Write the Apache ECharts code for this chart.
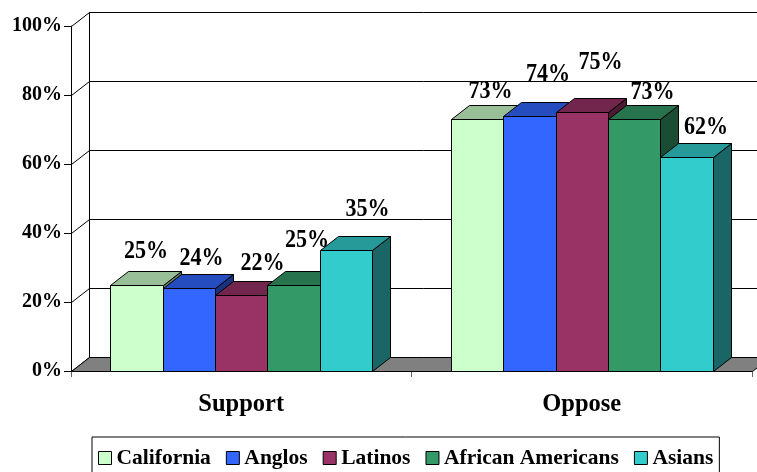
<!DOCTYPE html>
<html>
<head>
<meta charset="utf-8">
<script src="https://cdn.jsdelivr.net/npm/echarts/dist/echarts.min.js"></script>
<style>
  html, body { margin: 0; padding: 0; background: #fff; }
  #chart { width: 757px; height: 472px; }
</style>
</head>
<body>
<div id="chart"></div>
<script>
// ---- data ----
const categories = ['Support', 'Oppose'];
const groupNames = ['California', 'Anglos', 'Latinos', 'African Americans', 'Asians'];
const california = [25, 73];
const anglos = [24, 74];
const latinos = [22, 75];
const africanAmericans = [25, 73];
const asians = [35, 62];
const yTicks = [0, 20, 40, 60, 80, 100];

// ---- styling ----
const FONT = '"Liberation Serif", "Times New Roman", serif';
const DX = 18, DY = -14;          // depth offset of the 3D box
const BAR_FRACTION = 0.154;       // share of a category band taken by one bar
const frontColors = ['#CCFFCC', '#3366FF', '#993366', '#339966', '#33CCCC'];
// small hand placement of the value labels (relative to the top-back centre of each bar)
const labelNudge = [
  [[0, -20], [4, -14]],
  [[3, -16], [9, -28]],
  [[12, -18], [9, -36]],
  [[4, -31], [9, -13]],
  [[12, -27], [10, -16]]
];

function shade(hex, f) {
  const n = parseInt(hex.slice(1), 16);
  const r = Math.round(((n >> 16) & 255) * f);
  const g = Math.round(((n >> 8) & 255) * f);
  const b = Math.round((n & 255) * f);
  return 'rgb(' + r + ',' + g + ',' + b + ')';
}

const seriesValues = [california, anglos, latinos, africanAmericans, asians];

function renderFrame(params, api) {
  const cs = params.coordSys;
  const x0 = Math.round(cs.x) + 0.5, y0 = Math.round(cs.y) + 0.5;
  const x1 = Math.round(cs.x + cs.width) + 0.5, yb = Math.round(cs.y + cs.height) + 0.5;
  const line = { stroke: '#000', lineWidth: 1 };
  const children = [];
  children.push({ type: 'rect', shape: { x: x0 + DX, y: y0 + DY, width: x1 - x0, height: yb - y0 },
    style: Object.assign({ fill: '#fff' }, line) });
  children.push({ type: 'polygon',
    shape: { points: [[x0, y0], [x0 + DX, y0 + DY], [x0 + DX, yb + DY], [x0, yb]] },
    style: Object.assign({ fill: '#fff' }, line) });
  yTicks.forEach(function (v) {
    if (v === 0 || v === 100) return;
    const y = Math.round(api.coord([0, v])[1]) + 0.5;
    children.push({ type: 'polyline',
      shape: { points: [[x0, y], [x0 + DX, y + DY], [x1 + DX, y + DY]] },
      style: Object.assign({ fill: null }, line) });
  });
  children.push({ type: 'polygon',
    shape: { points: [[x0, yb], [x0 + DX, yb + DY], [x1 + DX, yb + DY], [x1, yb]] },
    style: Object.assign({ fill: '#808080' }, line) });
  return { type: 'group', children: children };
}

function makeBarRenderer(idx) {
  const front = frontColors[idx];
  const top = shade(front, 0.75);
  const side = shade(front, 0.5);
  return function (params, api) {
    const cat = api.value(0), val = api.value(1);
    const band = api.size([1, 0])[0];
    const bw = band * BAR_FRACTION;
    const c = api.coord([cat, val]);
    const base = Math.round(api.coord([cat, 0])[1]) + 0.5;
    const l = Math.round(c[0] - bw * groupNames.length / 2 + idx * bw) + 0.5;
    const r = Math.round(c[0] - bw * groupNames.length / 2 + (idx + 1) * bw) + 0.5;
    const t = Math.round(c[1]) + 0.5;
    const edge = { stroke: '#000', lineWidth: 1 };
    const nudge = labelNudge[idx][cat];
    return {
      type: 'group',
      children: [
        { type: 'polygon', shape: { points: [[r, t], [r + DX, t + DY], [r + DX, base + DY], [r, base]] },
          style: Object.assign({ fill: side }, edge) },
        { type: 'polygon', shape: { points: [[l, t], [l + DX, t + DY], [r + DX, t + DY], [r, t]] },
          style: Object.assign({ fill: top }, edge) },
        { type: 'rect', shape: { x: l, y: t, width: r - l, height: base - t },
          style: Object.assign({ fill: front }, edge) },
        { type: 'text', z2: 50,
          x: (l + r) / 2 + DX / 2 + nudge[0], y: t + DY + nudge[1], scaleX: 0.9,
          style: { text: val + '%', x: 0, y: 0,
            fill: '#000', font: 'bold 24.5px ' + FONT, align: 'center', verticalAlign: 'middle' } }
      ]
    };
  };
}

const series = [{
  type: 'custom', name: 'frame', silent: true, z: 1,
  renderItem: renderFrame, data: [[0, 0]], encode: { x: 0, y: 1 }
}];
groupNames.forEach(function (name, i) {
  series.push({
    type: 'custom', name: name, z: 2 + i,
    itemStyle: { color: frontColors[i] },
    renderItem: makeBarRenderer(i),
    encode: { x: 0, y: 1 },
    data: seriesValues[i].map(function (v, k) { return [k, v]; })
  });
});

const chart = echarts.init(document.getElementById('chart'), null, { renderer: 'canvas' });
chart.setOption({
  animation: false,
  backgroundColor: '#fff',
  grid: { left: 71, right: 5, top: 26, bottom: 101, containLabel: false },
  xAxis: {
    type: 'category', data: categories, boundaryGap: true,
    axisLine: { show: false },
    axisTick: { show: true, length: 6, lineStyle: { color: '#666' } },
    axisLabel: { margin: 21, color: '#000', fontFamily: FONT, fontWeight: 'bold', fontSize: 24.5 },
    splitLine: { show: false }
  },
  yAxis: {
    type: 'value', min: 0, max: 100, interval: 20,
    axisLine: { show: true, lineStyle: { color: '#000' } },
    axisTick: { show: true, length: 7, lineStyle: { color: '#000' } },
    axisLabel: { margin: 9, formatter: '{value}%', color: '#000', fontFamily: FONT, fontWeight: 'bold', fontSize: 20 },
    splitLine: { show: false }
  },
  legend: {
    data: groupNames, left: 92, top: 437, orient: 'horizontal',
    icon: 'rect', itemWidth: 13, itemHeight: 13, itemGap: 15,
    padding: [10, 6, 10, 6],
    borderColor: '#000', borderWidth: 1, borderRadius: 0,
    itemStyle: { borderColor: '#000', borderWidth: 1 },
    textStyle: { color: '#000', fontFamily: FONT, fontWeight: 'bold', fontSize: 21.5 },
    selectedMode: false
  },
  series: series
});
</script>
</body>
</html>
